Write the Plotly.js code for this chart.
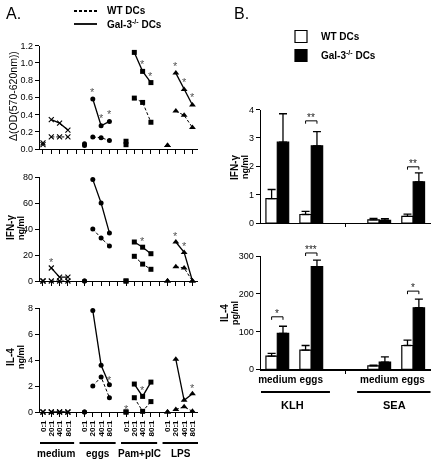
<!DOCTYPE html>
<html><head><meta charset="utf-8">
<script src="https://cdn.plot.ly/plotly-3.0.1.min.js"></script>
<style>body{margin:0;padding:0;background:#fff}#chart{width:432px;height:459px;filter:grayscale(1)}</style>
</head><body><div id="chart"></div>
<script>
// ---------- Panel A data ----------
const groupsA = ['medium', 'eggs', 'Pam+pIC', 'LPS'];
const ratiosA = ['0:1', '20:1', '40:1', '80:1'];
const symbolsA = ['x-thin', 'circle', 'square', 'triangle-up'];
// OD (570-620nm)
const odZeroWT  = [0.05, 0.04, 0.05, 0.04];
const odZeroGal = [0.07, 0.06, 0.09, 0.04];
const odWT  = [[0.14, 0.14, 0.14], [0.14, 0.13, 0.10], [0.59, 0.54, 0.31], [0.44, 0.39, 0.25]];
const odGal = [[0.34, 0.30, 0.22], [0.58, 0.27, 0.32], [1.12, 0.90, 0.77], [0.88, 0.69, 0.51]];
const odStarPos = [6, 7, 8, 11, 12, 13, 16, 17, 18];
const odStarVal = [0.69, 0.39, 0.44, 1.24, 1.02, 0.88, 1.00, 0.81, 0.64];
// IFN-gamma ng/ml
const ifnZeroWT  = [0, 0, 0, 0];
const ifnZeroGal = [0, 0, 0, 0];
const ifnWT  = [[0, 0, 0], [40, 33, 27], [19, 13, 9], [11, 10, 0]];
const ifnGal = [[10, 3, 3], [78, 60, 37], [30, 26, 21], [30, 22, 0]];
const ifnStarPos = [1, 12, 16, 17];
const ifnStarVal = [17, 33, 37, 29];
// IL-4 ng/ml
const il4ZeroWT  = [0, 0, 0, 0];
const il4ZeroGal = [0, 0, 0, 0];
const il4WT  = [[0, 0, 0], [2.0, 2.7, 1.1], [1.1, 0.05, 0.8], [0.2, 0.4, 0.05]];
const il4Gal = [[0, 0, 0], [7.8, 3.6, 2.1], [2.15, 1.2, 2.3], [4.05, 0.9, 1.4]];
const il4StarPos = [8, 10, 12, 18];
const il4StarVal = [2.7, 0.5, 1.9, 2.1];

// ---------- Panel B data ----------
const stimB = ['medium', 'eggs', 'medium', 'eggs'];
const antigenB = ['KLH', 'SEA'];
const posB = [0, 1, 3, 4];
const ifnB_WT = [0.86, 0.30, 0.11, 0.23];
const ifnB_WTerr = [0.32, 0.11, 0.05, 0.08];
const ifnB_Gal = [2.85, 2.72, 0.09, 1.45];
const ifnB_Galerr = [1.0, 0.5, 0.06, 0.32];
const ifnSigPos = [1, 4];
const ifnSigY = [3.6, 1.98];
const ifnSigTxt = ['**', '**'];
const il4B_WT = [35, 51, 9, 63];
const il4B_WTerr = [7, 12, 2, 14];
const il4B_Gal = [95, 272, 19, 163];
const il4B_Galerr = [19, 17, 14, 23];
const il4SigPos = [0, 1, 4];
const il4SigY = [139, 308, 207];
const il4SigTxt = ['*', '***', '*'];

// ---------- helpers ----------
const W = 432, H = 459;
const FONT = 'Liberation Sans, Arial, sans-serif';
const dxp = (a, b) => [a / W, b / W];
const dyp = (top, bottom) => [1 - bottom / H, 1 - top / H];
const posOf = (g, i) => g * 5 + i; // i: 0..3

const domY4 = dyp(109.5, 223), rangeY4 = [0, 4];
const domY5 = dyp(256, 369.3), rangeY5 = [0, 300];
const toPaper = (v, dom, rng) => dom[0] + (v - rng[0]) / (rng[1] - rng[0]) * (dom[1] - dom[0]);

const traces = [];
const shapes = [], annotations = [];
function addPanelA(zWT, zGal, wt, gal, xa, ya) {
  groupsA.forEach((g, gi) => {
    const sym = symbolsA[gi];
    const mk = {symbol: sym, size: sym === 'triangle-up' ? 6 : 5, color: '#000',
                line: {color: '#000', width: sym === 'x-thin' ? 1.1 : 0}};
    traces.push({type: 'scatter', mode: 'markers', x: [posOf(gi, 0), posOf(gi, 0)], y: [zWT[gi], zGal[gi]],
      xaxis: xa, yaxis: ya, marker: mk, showlegend: false, cliponaxis: false, hoverinfo: 'skip'});
    const xs = [1, 2, 3].map(i => posOf(gi, i));
    traces.push({type: 'scatter', mode: 'lines+markers', x: xs, y: wt[gi], xaxis: xa, yaxis: ya,
      line: {color: '#000', width: 1, dash: '3px,2px'}, marker: mk, showlegend: false, cliponaxis: false});
    traces.push({type: 'scatter', mode: 'lines+markers', x: xs, y: gal[gi], xaxis: xa, yaxis: ya,
      line: {color: '#000', width: 1.3}, marker: mk, showlegend: false, cliponaxis: false});
  });
}
function addStars(px, py, xa, ya) {
  px.forEach((p, i) => annotations.push({xref: xa, yref: ya, x: p, y: py[i], xanchor: 'center', yanchor: 'middle',
    yshift: -3, text: '*', showarrow: false, font: {family: FONT, size: 11, color: '#555'}}));
}
addPanelA(odZeroWT, odZeroGal, odWT, odGal, 'x', 'y');
addStars(odStarPos, odStarVal, 'x', 'y');
addPanelA(ifnZeroWT, ifnZeroGal, ifnWT, ifnGal, 'x2', 'y2');
addStars(ifnStarPos, ifnStarVal, 'x2', 'y2');
addPanelA(il4ZeroWT, il4ZeroGal, il4WT, il4Gal, 'x3', 'y3');
addStars(il4StarPos, il4StarVal, 'x3', 'y3');

// Panel B bars
function addBars(wt, wte, gal, gale, xa, ya, leg) {
  traces.push({type: 'bar', x: posB, y: wt, xaxis: xa, yaxis: ya, name: 'WT DCs', showlegend: leg, legend: 'legend',
    marker: {color: '#fff', line: {color: '#000', width: 1.2}},
    error_y: {type: 'data', symmetric: false, array: wte, arrayminus: wt.map(() => 0), color: '#000', thickness: 1.3, width: 4}});
  traces.push({type: 'bar', x: posB, y: gal, xaxis: xa, yaxis: ya, name: 'Gal-3<sup>-/-</sup> DCs', showlegend: leg, legend: 'legend',
    marker: {color: '#000', line: {color: '#000', width: 1.2}},
    error_y: {type: 'data', symmetric: false, array: gale, arrayminus: gal.map(() => 0), color: '#000', thickness: 1.3, width: 4}});
}
addBars(ifnB_WT, ifnB_WTerr, ifnB_Gal, ifnB_Galerr, 'x4', 'y4', true);
addBars(il4B_WT, il4B_WTerr, il4B_Gal, il4B_Galerr, 'x5', 'y5', false);

// ---------- layout ----------
const tickFont = {family: FONT, size: 9, color: '#000'};
const axBase = {showline: true, linecolor: '#000', linewidth: 1.3, ticks: 'outside', ticklen: 4, tickwidth: 1,
  tickcolor: '#000', showgrid: false, zeroline: false, tickfont: tickFont, fixedrange: true, automargin: false};
const labPosA = [];
const labTxtA = [];
groupsA.forEach((g, gi) => ratiosA.forEach((r, ri) => { labPosA.push(posOf(gi, ri)); labTxtA.push(r); }));
const xA = (anchor, labels) => Object.assign({}, axBase, {domain: dxp(40, 198), range: [-0.36, 18.67], anchor,
  tickvals: labPosA, ticktext: labTxtA, showticklabels: labels, tickangle: -90,
  minor: {ticks: 'outside', tick0: 0, dtick: 1, ticklen: 4, tickwidth: 1, tickcolor: '#000', showgrid: false},
  tickfont: {family: FONT, size: 8, color: '#000', weight: 'bold'}});
const xB = (anchor, labels) => Object.assign({}, axBase, {domain: dxp(261, 430.5), range: [-0.48, 4.51], anchor,
  tickvals: posB, ticktext: stimB, ticks: '', showticklabels: labels,
  minor: {ticks: 'outside', tick0: 2, dtick: 5, ticklen: 3, tickwidth: 1, tickcolor: '#000', showgrid: false},
  tickfont: {family: FONT, size: 10, color: '#000', weight: 'bold'}});

// panel A group underlines & labels
groupsA.forEach((g, gi) => {
  shapes.push({type: 'line', xref: 'x3', yref: 'paper', x0: posOf(gi, 0) - 0.6, x1: posOf(gi, 3) + 0.75,
    y0: 1 - 443 / H, y1: 1 - 443 / H, line: {color: '#000', width: 2}});
  annotations.push({xref: 'x3', yref: 'paper', x: (posOf(gi, 0) + posOf(gi, 3)) / 2 + 0.1, y: 1 - 453 / H,
    xanchor: 'center', yanchor: 'middle', text: '<b>' + g + '</b>', showarrow: false,
    font: {family: FONT, size: 10, color: '#000'}});
});
// panel B antigen underlines & labels
antigenB.forEach((a, ai) => {
  const p0 = posB[ai * 2], p1 = posB[ai * 2 + 1];
  shapes.push({type: 'line', xref: 'x5', yref: 'paper', x0: p0 - 0.65, x1: p1 + 0.55,
    y0: 1 - 392 / H, y1: 1 - 392 / H, line: {color: '#000', width: 2}});
  annotations.push({xref: 'x5', yref: 'paper', x: (p0 + p1) / 2 - 0.05, y: 1 - 405 / H, xanchor: 'center', yanchor: 'middle',
    text: '<b>' + a + '</b>', showarrow: false, font: {family: FONT, size: 11, color: '#000'}});
});
// significance brackets (y in paper units so they may sit above the axis top)
function addSig(pos, ys, txt, xa, dom, rng, d) {
  pos.forEach((p, i) => {
    const x0 = p - 0.1675, x1 = p + 0.1675;
    const y = toPaper(ys[i], dom, rng), yd = toPaper(ys[i] - d, dom, rng);
    shapes.push({type: 'path', xref: xa, yref: 'paper', path: `M${x0},${yd} L${x0},${y} L${x1},${y} L${x1},${yd}`,
      line: {color: '#000', width: 1}});
    annotations.push({xref: xa, yref: 'paper', x: p, y: y, xanchor: 'center', yanchor: 'bottom', yshift: -4, text: txt[i],
      showarrow: false, font: {family: FONT, size: 10, color: '#222'}});
  });
}
addSig(ifnSigPos, ifnSigY, ifnSigTxt, 'x4', domY4, rangeY4, 0.1);
addSig(il4SigPos, il4SigY, il4SigTxt, 'x5', domY5, rangeY5, 8);

// panel letters
annotations.push({xref: 'paper', yref: 'paper', x: 4 / W, y: 1 - 13 / H, xanchor: 'left', yanchor: 'middle', text: 'A.',
  showarrow: false, font: {family: FONT, size: 16, color: '#000'}});
annotations.push({xref: 'paper', yref: 'paper', x: 232 / W, y: 1 - 13 / H, xanchor: 'left', yanchor: 'middle', text: 'B.',
  showarrow: false, font: {family: FONT, size: 16, color: '#000'}});
// panel A legend (line styles)
shapes.push({type: 'line', xref: 'paper', yref: 'paper', x0: 74 / W, x1: 97 / W, y0: 1 - 11 / H, y1: 1 - 11 / H,
  line: {color: '#000', width: 1.8, dash: '3px,2px'}});
shapes.push({type: 'line', xref: 'paper', yref: 'paper', x0: 74 / W, x1: 97 / W, y0: 1 - 24 / H, y1: 1 - 24 / H,
  line: {color: '#000', width: 1.8}});
annotations.push({xref: 'paper', yref: 'paper', x: 105 / W, y: 1 - 11 / H, xanchor: 'left', yanchor: 'middle',
  text: '<b>WT DCs</b>', showarrow: false, font: {family: FONT, size: 10, color: '#000'}});
annotations.push({xref: 'paper', yref: 'paper', x: 105 / W, y: 1 - 24 / H, xanchor: 'left', yanchor: 'middle',
  text: '<b>Gal-3<sup>-/-</sup> DCs</b>', showarrow: false, font: {family: FONT, size: 10, color: '#000'}});
// y-axis titles
function ytitle(x, yc, text, size, bold) {
  annotations.push({xref: 'paper', yref: 'paper', x: x / W, y: 1 - yc / H, xanchor: 'center', yanchor: 'middle',
    textangle: -90, showarrow: false, text: bold ? '<b>' + text + '</b>' : text, font: {family: FONT, size: size, color: '#000'}});
}
ytitle(13, 96, 'Δ(OD(570-620nm))', 10.5, false);
ytitle(10, 228, 'IFN-γ', 10, true);
ytitle(21, 228, 'ng/ml', 9, true);
ytitle(10, 357, 'IL-4', 10, true);
ytitle(21, 357, 'ng/ml', 9, true);
ytitle(234, 167, 'IFN-γ', 10, true);
ytitle(245, 167, 'ng/ml', 9, true);
ytitle(224, 313, 'IL-4', 10, true);
ytitle(235, 313, 'pg/ml', 9, true);

const layout = {
  width: W, height: H, margin: {l: 0, r: 0, t: 0, b: 0}, paper_bgcolor: '#fff', plot_bgcolor: 'rgba(0,0,0,0)',
  font: {family: FONT, color: '#000'}, barmode: 'group', bargap: 0.33, bargroupgap: 0,
  xaxis: xA('y', false), xaxis2: xA('y2', false), xaxis3: xA('y3', true),
  yaxis: Object.assign({}, axBase, {domain: dyp(45.5, 149), range: [0, 1.2], anchor: 'x', dtick: 0.2, tickformat: '.1f'}),
  yaxis2: Object.assign({}, axBase, {domain: dyp(177, 281), range: [0, 80], anchor: 'x2', dtick: 20}),
  yaxis3: Object.assign({}, axBase, {domain: dyp(308, 412), range: [0, 8], anchor: 'x3', dtick: 2}),
  xaxis4: xB('y4', false), xaxis5: xB('y5', true),
  yaxis4: Object.assign({}, axBase, {domain: domY4, range: rangeY4, anchor: 'x4', dtick: 1}),
  yaxis5: Object.assign({}, axBase, {domain: domY5, range: rangeY5, anchor: 'x5', dtick: 100}),
  legend: {x: 281 / W, y: 1 - 22 / H, xanchor: 'left', yanchor: 'top', bgcolor: 'rgba(0,0,0,0)',
    font: {family: FONT, size: 10, color: '#000', weight: 'bold'}, tracegroupgap: 4},
  shapes, annotations
};
Plotly.newPlot('chart', traces, layout, {staticPlot: true, displayModeBar: false});
</script></body></html>
